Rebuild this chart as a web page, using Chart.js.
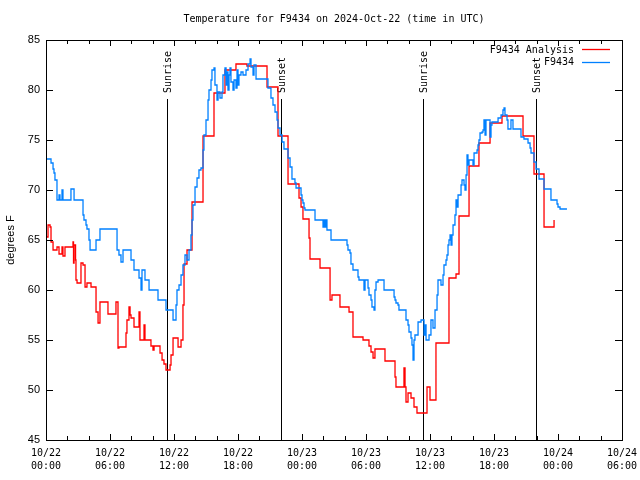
<!DOCTYPE html>
<html>
<head>
<meta charset="utf-8">
<script src="https://cdn.jsdelivr.net/npm/chart.js@4"></script>
<style>
  html, body { margin: 0; padding: 0; background: #fff; }
</style>
</head>
<body>
<canvas id="myChart" width="640" height="480"></canvas>
<script>
// hours since 10/22 00:00 UTC
const analysisHours = [0, 0.19, 0.38, 0.47, 0.66, 1.03, 1.22, 1.5, 1.59, 1.78, 2.53, 2.58, 2.63, 2.77, 2.81, 2.91,
  3.28, 3.47, 3.66, 3.84, 4.22, 4.69, 4.88, 5.06, 5.81, 6.56, 6.75, 6.84, 7.5, 7.59, 7.78, 7.88, 7.97, 8.25,
  8.72, 8.81, 9.19, 9.28, 9.84, 10.03, 10.13, 10.69, 10.88, 11.06, 11.25, 11.63, 11.72, 11.91, 12.38, 12.66,
  12.84, 12.94, 13.22, 13.69, 14.72, 15.75, 16.78, 17.81, 18.84, 20.72, 21.75, 22.69, 23.72, 23.91, 24.09,
  24.66, 24.75, 25.69, 26.63, 26.81, 27.56, 28.41, 28.78, 29.72, 30.28, 30.47, 30.66, 30.84, 31.78, 32.72,
  32.81, 33.56, 33.66, 33.75, 33.94, 34.22, 34.5, 34.78, 35.72, 36.0, 36.56, 37.78, 38.44, 38.72, 39.66,
  40.59, 41.63, 42.75, 44.72, 45.75, 46.69, 47.63];
const analysisTemps = [65.3, 66.5, 66.3, 64.8, 64.0, 64.3, 63.6, 64.3, 63.4, 64.3, 64.8, 62.7, 64.5, 63.0, 61.0, 60.7,
  62.7, 62.5, 60.3, 60.7, 60.3, 57.8, 56.7, 58.8, 57.6, 58.8, 54.2, 54.3, 55.7, 57.0, 58.3, 57.5, 57.2, 56.3,
  57.8, 55.0, 56.5, 55.0, 54.4, 54.0, 54.4, 53.7, 53.0, 52.6, 52.0, 52.5, 53.5, 55.2, 54.3, 55.0,
  58.5, 62.6, 64.0, 68.8, 75.4, 79.7, 82.0, 82.6, 82.4, 80.3, 75.4, 70.6, 69.2, 68.3, 67.1,
  65.2, 63.1, 62.2, 59.0, 59.5, 58.3, 57.8, 55.3, 55.0, 54.4, 53.8, 53.2, 54.1, 52.9, 51.3,
  50.3, 52.2, 50.3, 48.8, 49.7, 49.2, 48.3, 47.7, 50.3, 49.0, 54.7, 61.2, 61.6, 67.4, 72.4,
  74.7, 76.7, 77.4, 75.4, 71.6, 66.3, 67.0];

const stationHours = [0, 0.47, 0.66, 0.75, 0.84, 1.03, 1.22, 1.31, 1.5, 1.59, 2.34, 2.63, 3.47, 3.56, 3.75, 3.84,
  4.03, 4.13, 4.69, 5.06, 6.66, 6.84, 7.03, 7.22, 7.97, 8.25, 8.72, 8.91, 9.0, 9.28, 9.66, 10.5, 11.25, 11.91,
  12.19, 12.28, 12.47, 12.66, 12.84, 13.03, 13.22, 13.41, 13.59, 13.69, 13.78, 13.97, 14.16, 14.34, 14.53,
  14.72, 14.81, 15.0, 15.19, 15.28, 15.47, 15.56, 15.75, 15.84, 16.03, 16.13, 16.31, 16.5, 16.59, 16.78,
  16.88, 16.97, 17.06, 17.16, 17.25, 17.34, 17.53, 17.63, 17.81, 17.91, 18.0, 18.09, 18.28, 18.47, 18.75,
  18.94, 19.13, 19.22, 19.41, 19.5, 19.69, 20.81, 21.09, 21.28, 21.47, 21.66, 21.75, 21.94, 22.13, 22.31,
  22.69, 22.88, 23.06, 23.34, 23.44, 23.91, 24.0, 24.09, 24.19, 24.28, 25.22, 25.97, 26.06, 26.16, 26.25,
  26.34, 26.72, 28.22, 28.31, 28.5, 28.59, 28.78, 29.25, 29.34, 29.81, 29.91, 30.19, 30.28, 30.47, 30.56,
  30.75, 30.84, 30.94, 31.13, 31.69, 32.63, 32.72, 32.81, 33.0, 33.09, 33.75, 33.94, 34.03, 34.22, 34.31,
  34.41, 34.5, 34.59, 34.88, 35.16, 35.44, 35.53, 35.63, 35.91, 36.09, 36.28, 36.47, 36.66, 36.75, 37.03,
  37.22, 37.31, 37.5, 37.59, 37.69, 37.78, 37.88, 37.97, 38.06, 38.16, 38.34, 38.44, 38.53, 38.63, 38.91,
  39.0, 39.19, 39.28, 39.38, 39.47, 39.56, 39.66, 40.03, 40.13, 40.41, 40.5, 40.59, 40.69, 40.88, 40.97,
  41.06, 41.16, 41.25, 41.63, 41.72, 41.81, 42.38, 42.66, 42.84, 42.94, 43.03, 43.22, 43.31, 43.59, 43.78,
  44.53, 44.81, 45.19, 45.38, 45.47, 45.75, 45.94, 46.22, 46.69, 47.34, 47.91, 48.0, 48.19, 48.84];
const stationTemps = [73.1, 72.7, 72.1, 71.7, 71.0, 69.0, 69.5, 69.0, 70.0, 69.0, 70.1, 69.0, 67.5, 67.0, 66.5, 66.1,
  65.0, 64.0, 65.0, 66.1, 64.0, 63.5, 62.8, 64.0, 63.0, 62.0, 61.2, 60.0, 62.0, 61.0, 60.0, 59.0, 58.0, 57.0,
  58.5, 60.0, 60.5, 61.5, 62.5, 63.5, 63.0, 64.0, 65.5, 67.0, 68.5, 70.3, 71.2, 72.0, 72.2,
  74.0, 75.5, 77.0, 79.0, 80.0, 81.0, 82.0, 82.2, 80.5, 79.0, 79.8, 79.2, 79.8, 81.5, 82.2,
  80.5, 81.8, 80.0, 81.5, 82.2, 80.8, 80.0, 81.0, 80.2, 82.0, 80.5, 81.5, 81.8, 81.5, 82.0,
  82.6, 83.1, 82.3, 81.5, 82.5, 81.1, 80.2, 79.2, 78.5, 77.8, 77.0, 76.2, 75.5, 74.8, 74.1,
  73.2, 72.3, 71.1, 70.7, 70.2, 69.5, 69.0, 68.7, 68.2, 68.0, 67.0, 66.3, 67.0, 66.3, 67.0,
  66.0, 65.0, 64.5, 64.0, 63.7, 62.6, 62.0, 61.3, 61.0, 60.0, 61.0, 60.2, 59.5, 59.0, 58.3,
  58.0, 60.0, 60.8, 61.0, 60.0, 59.3, 59.0, 58.7, 58.5, 58.0, 57.0, 56.5, 55.8, 55.2, 54.5,
  53.0, 55.0, 55.5, 56.8, 57.0, 55.5, 56.5, 55.0, 55.5, 57.0, 56.2, 58.0, 59.5, 61.0, 60.5,
  61.5, 62.5, 63.0, 63.5, 64.5, 65.0, 65.5, 64.5, 65.5, 66.5, 67.5, 69.0, 68.3, 69.5, 70.5,
  71.0, 70.5, 70.0, 71.5, 73.5, 72.5, 73.0, 72.5, 73.7, 74.0, 74.5, 75.0, 75.7, 75.8, 76.0,
  77.0, 75.5, 77.0, 75.3, 76.5, 76.8, 77.2, 77.5, 78.0, 78.2, 77.5, 77.0, 76.1, 77.0, 76.1,
  75.3, 75.1, 74.7, 74.2, 73.7, 72.8, 72.1, 71.1, 70.1, 69.0, 68.6, 68.3, 68.1, 68.1];

const sunHours = [11.35, 22.05, 35.35, 45.95];
const sunLabels = ["Sunrise", "Sunset", "Sunrise", "Sunset"];

const dayLabels = ["10/22", "10/22", "10/22", "10/22", "10/23", "10/23", "10/23", "10/23", "10/24", "10/24"];
const timeLabels = ["00:00", "06:00", "12:00", "18:00", "00:00", "06:00", "12:00", "18:00", "00:00", "06:00"];

const mono = "'DejaVu Sans Mono', monospace";
const sans = "'Liberation Sans', Arial, sans-serif";

function points(xs, ys) {
  return xs.map((x, i) => ({ x: x, y: ys[i] }));
}

// gnuplot-like frame, inward ticks, sun lines, legend, title
const decor = {
  id: "decor",
  beforeDatasetsDraw(chart) {
    const ctx = chart.ctx;
    const a = chart.chartArea;
    const xs = chart.scales.x;
    ctx.save();
    ctx.strokeStyle = "#000";
    ctx.lineWidth = 1;
    ctx.fillStyle = "#000";
    ctx.font = "10px " + mono;
    ctx.textBaseline = "middle";
    ctx.textAlign = "left";
    sunHours.forEach((h, i) => {
      const px = Math.round(xs.getPixelForValue(h)) + 0.5;
      ctx.beginPath();
      ctx.moveTo(px, a.top + 59);
      ctx.lineTo(px, a.bottom);
      ctx.stroke();
      ctx.save();
      ctx.translate(px + 1, a.top + 53);
      ctx.rotate(-Math.PI / 2);
      ctx.fillText(sunLabels[i], 0, 0);
      ctx.restore();
    });
    ctx.restore();
  },
  afterDraw(chart) {
    const ctx = chart.ctx;
    const a = chart.chartArea;
    const xs = chart.scales.x;
    const ys = chart.scales.y;
    ctx.save();
    ctx.strokeStyle = "#000";
    ctx.lineWidth = 1;
    ctx.strokeRect(a.left + 0.5, a.top + 0.5, a.right - a.left, a.bottom - a.top);
    ctx.beginPath();
    for (let h = xs.min; h <= xs.max; h += 2) {
      const px = Math.round(xs.getPixelForValue(h)) + 0.5;
      const len = h % 6 === 0 ? 6 : 4;
      ctx.moveTo(px, a.bottom);
      ctx.lineTo(px, a.bottom - len);
      ctx.moveTo(px, a.top);
      ctx.lineTo(px, a.top + len);
    }
    for (let v = ys.min; v <= ys.max; v += 5) {
      const py = Math.round(ys.getPixelForValue(v)) + 0.5;
      ctx.moveTo(a.left, py);
      ctx.lineTo(a.left + 7, py);
      ctx.moveTo(a.right, py);
      ctx.lineTo(a.right - 7, py);
    }
    ctx.stroke();

    // title
    ctx.fillStyle = "#000";
    ctx.font = "10px " + mono;
    ctx.textAlign = "center";
    ctx.textBaseline = "middle";
    ctx.fillText("Temperature for F9434 on 2024-Oct-22 (time in UTC)", (a.left + a.right) / 2, 19);

    // y title
    ctx.save();
    ctx.font = "11px " + sans;
    ctx.translate(11, (a.top + a.bottom) / 2);
    ctx.rotate(-Math.PI / 2);
    ctx.fillText("degrees F", 0, 0);
    ctx.restore();

    // legend
    ctx.font = "10px " + mono;
    ctx.textAlign = "right";
    chart.data.datasets.slice().reverse().forEach((ds, i) => {
      const y = a.top + 10 + i * 12.5;
      ctx.fillStyle = "#000";
      ctx.fillText(ds.label, a.right - 48, y);
      ctx.strokeStyle = ds.borderColor;
      ctx.lineWidth = 1.3;
      ctx.beginPath();
      ctx.moveTo(a.right - 40, Math.round(y) - 0.5);
      ctx.lineTo(a.right - 12, Math.round(y) - 0.5);
      ctx.stroke();
    });
    ctx.restore();
  }
};

const config = {
  type: "line",
  data: {
    datasets: [
      {
        label: "F9434",
        data: points(stationHours, stationTemps),
        borderColor: "rgb(0,128,255)",
        borderWidth: 1.3,
        pointRadius: 0,
        stepped: true,
        fill: false
      },
      {
        label: "F9434 Analysis",
        data: points(analysisHours, analysisTemps),
        borderColor: "rgb(255,0,0)",
        borderWidth: 1.3,
        pointRadius: 0,
        stepped: true,
        fill: false
      }
    ]
  },
  options: {
    responsive: false,
    animation: false,
    devicePixelRatio: 1,
    layout: { padding: { top: 40, right: 18, left: 0, bottom: 0 } },
    plugins: {
      legend: { display: false },
      title: { display: false },
      tooltip: { enabled: false }
    },
    scales: {
      x: {
        type: "linear",
        min: 0,
        max: 54,
        afterFit: (s) => { s.height = 40; s.paddingLeft = 0; s.paddingRight = 0; },
        grid: { display: false, drawTicks: false },
        border: { display: false },
        ticks: {
          stepSize: 6,
          maxRotation: 0,
          autoSkip: false,
          padding: 7,
          color: "#000",
          font: { family: mono, size: 10, lineHeight: 1.3 },
          callback: (value, index) => [dayLabels[index], timeLabels[index]]
        }
      },
      y: {
        min: 45,
        max: 85,
        afterFit: (s) => { s.width = 46; s.paddingTop = 0; s.paddingBottom = 0; },
        grid: { display: false, drawTicks: false },
        border: { display: false },
        ticks: {
          stepSize: 5,
          padding: 6,
          color: "#000",
          font: { family: sans, size: 11 }
        }
      }
    }
  },
  plugins: [decor]
};

const myChart = new Chart(document.getElementById("myChart").getContext("2d"), config);
</script>
</body>
</html>
